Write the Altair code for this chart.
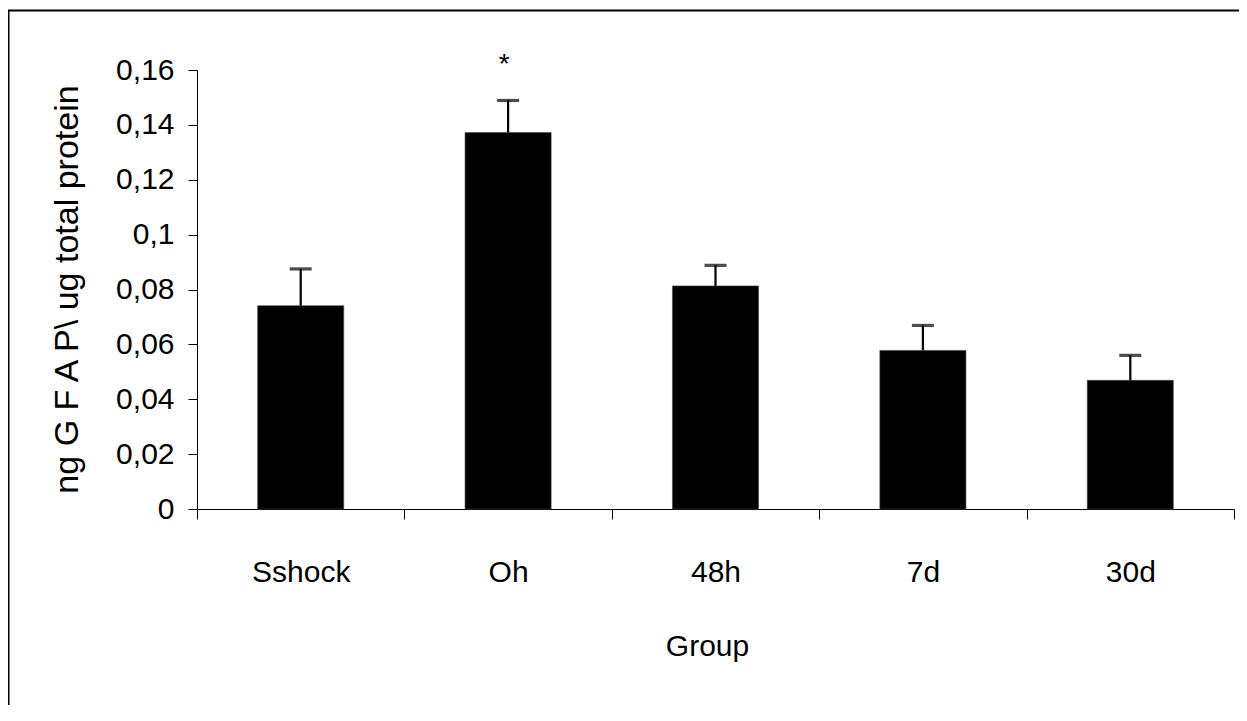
import altair as alt
import pandas as pd

groups = ["Sshock", "Oh", "48h", "7d", "30d"]
means = [0.0741, 0.1372, 0.0813, 0.0578, 0.0469]
sems = [0.0134, 0.0117, 0.0075, 0.0091, 0.0091]
marks = ["", "*", "", "", ""]
y_ticks = [0, 0.02, 0.04, 0.06, 0.08, 0.10, 0.12, 0.14, 0.16]

df = pd.DataFrame({"group": groups, "mean": means, "sem": sems, "mark": marks})
df["upper"] = df["mean"] + df["sem"]

FONT = "Liberation Sans"
W, H = 1037, 439
PAD_R, PAD_B = 5, 196

xscale = alt.Scale(domain=groups, paddingInner=0, paddingOuter=0)
yscale = alt.Scale(domain=[0, 0.16], nice=False, zero=True)

x_axis = alt.Axis(
    orient="bottom", title="Group", labelAngle=0,
    tickBand="extent", tickSize=10, ticks=True,
    labelFont=FONT, labelFontSize=30, labelPadding=62, labelBaseline="alphabetic",
    titleFont=FONT, titleFontSize=30, titleX=510, titleY=146, titleBaseline="alphabetic",
)
y_axis = alt.Axis(
    values=y_ticks, title="ng G F A P\\ ug total protein",
    labelExpr="replace(format(datum.value, '~g'), '.', ',')",
    tickSize=9, labelPadding=14,
    labelFont=FONT, labelFontSize=30,
    titleFont=FONT, titleFontSize=34, titleAngle=270,
    titleX=-130, titleY=219, titleBaseline="middle", titleAlign="center",
)

base = alt.Chart(df)
x_enc = alt.X("group:N", scale=xscale, sort=groups, axis=x_axis)

bars = base.mark_bar(color="black", stroke="#444", strokeWidth=0.6,
                     width=alt.RelativeBandSize(0.415)).encode(
    x=x_enc,
    y=alt.Y("mean:Q", scale=yscale, axis=y_axis),
)
rule = base.mark_rule(color="black", strokeWidth=2.2).encode(
    x=x_enc,
    y=alt.Y("mean:Q", scale=yscale, axis=y_axis),
    y2="upper:Q",
)
cap = base.mark_tick(color="black", size=22, thickness=3.2).encode(
    x=x_enc,
    y=alt.Y("upper:Q", scale=yscale, axis=y_axis),
)
star = base.mark_text(font=FONT, fontSize=28, baseline="alphabetic",
                      dy=-27, dx=-4, color="black").encode(
    x=x_enc,
    y=alt.Y("upper:Q", scale=yscale, axis=y_axis),
    text="mark:N",
)
one = alt.Chart(pd.DataFrame({"a": [0]}))
frame_left = one.mark_rule(color="black", strokeWidth=2).encode(
    x=alt.value(-188.5), y=alt.value(-59.5), y2=alt.value(H + PAD_B),
)
frame_top = one.mark_rule(color="black", strokeWidth=2).encode(
    x=alt.value(-189.5), x2=alt.value(W + PAD_R), y=alt.value(-59.5),
)

chart = alt.layer(bars, rule, cap, star, frame_left, frame_top).properties(
    width=W, height=H,
    autosize=alt.AutoSizeParams(type="none"),
    padding={"left": 189, "top": 62, "right": PAD_R, "bottom": PAD_B},
).configure_view(stroke=None).configure_axis(
    grid=False, domainColor="black", tickColor="black", labelColor="black",
    titleColor="black", titleFontWeight="normal", domainWidth=1, tickWidth=1,
)

chart.save("out.html", embed_options={"renderer": "svg", "actions": False})
